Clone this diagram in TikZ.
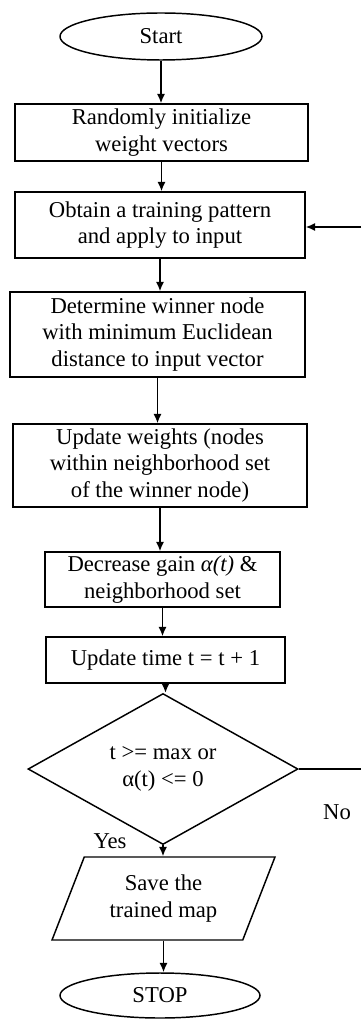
\documentclass[tikz,border=0pt]{standalone}
\usepackage{fontspec}
\setmainfont{Liberation Serif}
\usetikzlibrary{shapes.geometric,arrows.meta}
\tikzset{
  base/.style={draw=black, line width=1.1pt, align=center, inner sep=0pt,
    font=\fontsize{17}{19.8}\selectfont},
  box/.style={base, rectangle},
  oval/.style={base, ellipse},
  decide/.style={base, diamond},
  io/.style={base, trapezium, trapezium left angle=65, trapezium right angle=115, trapezium stretches=true},
  lbl/.style={font=\fontsize{17}{19.8}\selectfont, inner sep=0pt},
  arr/.style={line width=1.1pt, -{Latex[length=7pt,width=6pt]}},
  ln/.style={line width=1.1pt},
}
\begin{document}
\begin{tikzpicture}[x=0.75pt,y=-0.75pt]
\useasboundingbox (0,0) rectangle (361,1019);
\node[oval, minimum width=202*0.75pt, minimum height=47*0.75pt] (start) at (161,36.5) {Start};
\node[box, minimum width=293*0.75pt, minimum height=57*0.75pt] (b1) at (161.5,132.5) {Randomly initialize\\weight vectors};
\node[box, minimum width=290*0.75pt, minimum height=66*0.75pt] (b2) at (160,225) {Obtain a training pattern\\and apply to input};
\node[box, minimum width=295*0.75pt, minimum height=85*0.75pt] (b3) at (157.5,334.5) {Determine winner node\\with minimum Euclidean\\distance to input vector};
\node[box, minimum width=294*0.75pt, minimum height=83*0.75pt] (b4) at (160,465.5) {Update weights (nodes\\within neighborhood set\\of the winner node)};
\node[box, minimum width=235*0.75pt, minimum height=55*0.75pt] (b5) at (162.5,579.5) {Decrease gain {\itshape α(t)} \&\\neighborhood set};
\node[box, minimum width=239*0.75pt, minimum height=46*0.75pt] (b6) at (165.5,660) {Update time t = t + 1};
\node[decide, minimum width=270*0.75pt, minimum height=110*0.75pt] (dia) at (163,769) {t >= max or\\α(t) <= 0};
\node[io, minimum width=223*0.75pt, minimum height=83*0.75pt] (save) at (163.5,898.5) {Save the\\trained map};
\node[oval, minimum width=200*0.75pt, minimum height=45*0.75pt] (stop) at (160,995.5) {STOP};
\node[lbl] (no) at (337,812) {No};
\node[lbl] (yes) at (110,841) {Yes};
\coordinate (noend) at (361,769);
\coordinate (backin) at (361,227);

\draw[arr] (start.south) -- (start.south |- b1.north);
\draw[arr] (b1.south) -- (b1.south |- b2.north);
\draw[arr] (b2.south) -- (b2.south |- b3.north);
\draw[arr] (b3.south) -- (b3.south |- b4.north);
\draw[arr] (b4.south) -- (b4.south |- b5.north);
\draw[arr] (b5.south) -- (b5.south |- b6.north);
\draw[arr] (b6.south) -- (b6.south |- dia.north);
\draw[arr] (dia.south) -- (dia.south |- save.north);
\draw[arr] (save.south) -- (save.south |- stop.north);
\draw[ln] (dia.east) -- (noend);
\draw[arr] (backin) -- (b2.east |- backin);
\end{tikzpicture}
\end{document}
